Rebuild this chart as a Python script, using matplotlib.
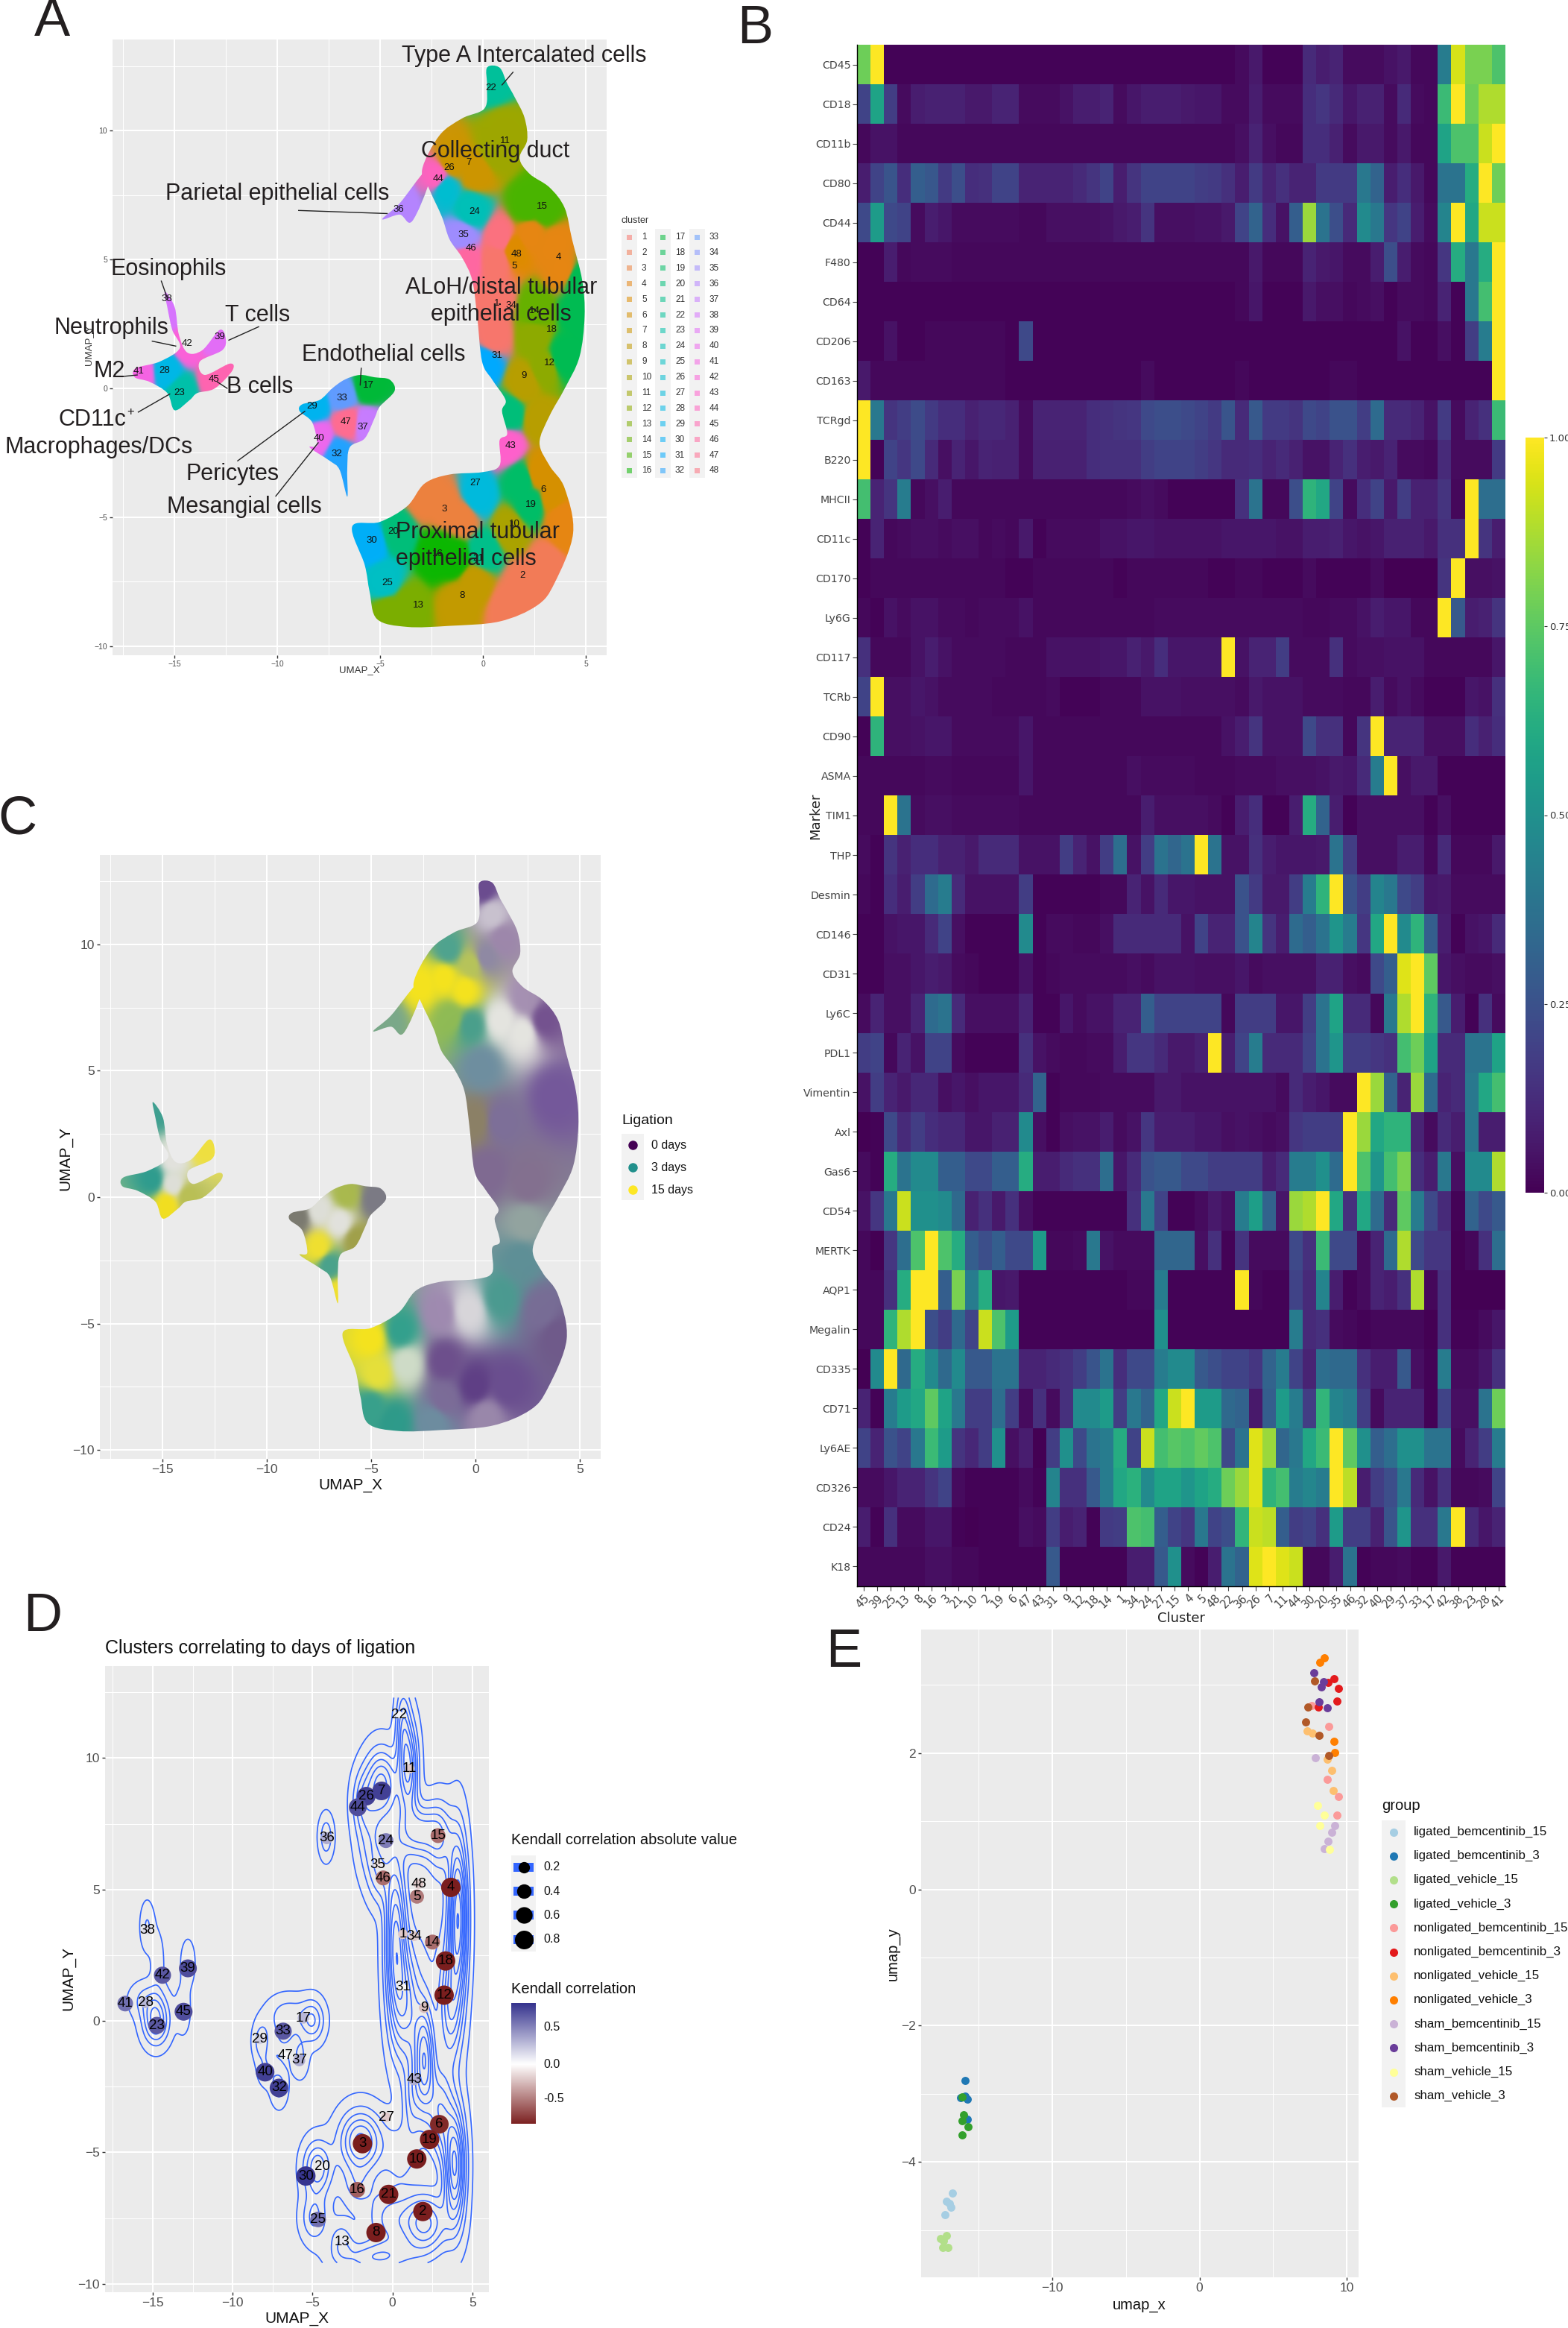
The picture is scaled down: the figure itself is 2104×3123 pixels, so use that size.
import numpy as np
import matplotlib
matplotlib.use('Agg')
import matplotlib.pyplot as plt
from matplotlib.colors import LinearSegmentedColormap, to_rgb
from matplotlib.patches import PathPatch, Rectangle
from matplotlib.path import Path

plt.rcParams['font.family'] = ['Liberation Sans', 'DejaVu Sans']

W, H = 2104, 3123

# cluster centres, cluster 1 to 48
cluster_x = [0.65,1.90,-1.88,3.65,1.53,2.93,-0.68,-1.03,1.98,1.52,1.07,3.23,-3.14,2.50,2.85,-2.20,
             -5.58,3.32,2.32,-4.38,-0.24,0.39,-14.74,-0.41,-4.65,-1.64,-0.40,-15.46,-8.32,-5.42,0.67,-7.10,
             -6.84,1.35,-0.95,-4.11,-5.83,-15.35,-12.80,-7.97,-16.72,-14.39,1.35,-2.17,-13.07,-0.58,-6.68,1.63]
cluster_y = [3.30,-7.25,-4.67,5.08,4.73,-3.93,8.75,-8.05,0.50,-5.25,9.60,0.98,-8.41,3.00,7.05,-6.42,
             0.11,2.28,-4.51,-5.54,-6.60,11.65,-0.17,6.86,-7.55,8.55,-3.66,0.70,-0.70,-5.90,1.28,-2.55,
             -0.39,3.22,5.95,6.95,-1.50,3.46,2.00,-1.95,0.66,1.74,-2.22,8.13,0.35,5.44,-1.31,5.21]
kendall = [-0.2,-0.85,-0.85,-0.85,-0.5,-0.8,0.8,-0.85,-0.25,-0.85,-0.2,-0.85,0.1,-0.55,-0.55,-0.6,
           0.3,-0.85,-0.85,0.05,-0.85,0.05,0.7,0.55,0.6,0.8,-0.2,0.3,0.2,0.85,-0.03,0.8,
           0.7,-0.2,-0.1,0.35,0.35,0.15,0.75,0.8,0.6,0.7,0.35,0.75,0.75,-0.55,0.02,-0.2]

# outlines of the umap islands
body_x = [0.19,0.8,1.17,1.53,2.01,2.14,1.77,2.26,3.23,3.96,4.32,4.81,4.93,4.68,3.96,3.23,2.74,3.23,3.96,4.37,3.47,2.62,0.8,-1.63,-3.69,-5.15,-5.51,-5.75,-6.36,-5.02,-3.69,-2.84,-1.63,-0.05,0.8,0.8,1.17,0.92,1.09,0.44,-0.05,-0.29,-0.53,-1.02,-1.63,-2.0,-2.6,-2.96,-2.12,-1.02,0.07,0.19]
body_y = [12.44,12.44,11.82,11.3,10.5,9.63,8.93,8.32,7.79,7.0,5.78,4.2,2.8,1.22,-0.01,-1.06,-2.11,-3.0,-3.87,-5.62,-7.55,-8.42,-9.04,-9.21,-9.25,-8.95,-7.9,-6.85,-5.36,-5.18,-4.57,-3.69,-3.34,-3.25,-2.99,-2.02,-1.76,-0.88,-0.45,0.34,1.04,2.8,4.2,5.07,5.78,6.65,7.7,8.49,9.81,10.47,10.86,11.73]
left_x = [-15.46,-14.98,-14.78,-14.37,-13.64,-12.79,-12.5,-12.67,-13.76,-13.52,-12.31,-12.18,-13.03,-13.88,-14.25,-14.98,-15.34,-16.19,-16.92,-16.87,-15.7,-14.73,-15.1,-15.34]
left_y = [3.76,3.15,2.09,1.39,1.48,2.27,1.92,1.48,1.04,0.52,0.96,0.69,0,-0.18,-0.45,-0.85,-0.18,0.25,0.43,0.78,1.04,1.57,2.27,3.15]
mid_x = [-5.99,-6.72,-7.33,-7.94,-8.79,-8.91,-8.3,-8.06,-8.42,-7.45,-6.97,-6.6,-6.6,-6.48,-5.75,-5.27,-5.02,-4.3,-4.54,-5.27]
mid_y = [0.52,0.34,0,-0.45,-0.62,-0.89,-1.32,-2.2,-2.29,-2.81,-3.16,-4.2,-3.16,-2.29,-1.94,-1.15,-0.71,-0.1,0.34,0.43]
par_x = [-4.9,-4.05,-2.84,-2.6,-3.45,-4.05]
par_y = [6.56,7.18,8.4,8.05,6.48,6.74]

# panel A colour regions
fill_id = [22,11,11,7,7,15,15,26,24,44,35,46,1,1,1,4,4,4,5,48,14,18,18,18,12,12,9,9,31,20,43,6,6,4,19,19,3,3,3,27,10,4,2,2,2,21,16,16,20,30,25,13,13,8,8,
           38,42,39,41,28,23,45,17,33,29,47,37,40,32,36]
fill_x = [0.5,1,0.6,-0.3,-1.5,2.9,2.2,-1.9,-0.6,-2.2,-1,-0.85,0.6,0.7,0.5,3.5,2.3,3.9,1.5,0.9,2.6,4.6,4.6,3.9,3,2.5,2,2.7,0.1,1.3,1.2,2.7,3.4,4,2.3,1.9,-1.8,-2.8,-1,-0.3,1.3,3.8,2,3.2,1.2,0.1,-2.2,-1.4,-4.2,-5.4,-4.8,-3.7,-4.6,-1.1,-0.4,
          -15.3,-14.4,-13,-16.6,-15.4,-14.7,-13,-5.6,-6.8,-8.2,-6.6,-5.7,-8,-7,-4]
fill_y = [11.9,10,9.2,8.4,8.8,7,7,7.8,6.9,8.15,5.9,5,3.5,5,2,5.5,6,4.6,5.4,5.8,3,3,4.2,1.2,0.8,2,0.2,-1.2,1,-1,-2.2,-3.3,-4.2,-5.6,-4.5,-3.6,-4.6,-4.2,-5,-4.2,-5.5,-5,-7.6,-6.8,-8.5,-6.3,-6.4,-6.6,-5.6,-6,-7.5,-8.5,-8.7,-8.3,-7.6,
          3,1.7,2,0.6,0.7,-0.2,0.4,0.1,-0.3,-0.7,-1.3,-1.4,-1.9,-2.6,7]

# panel C colour field
lig_x = [0.4,0.8,1.3,-1.3,-1.5,-0.5,-0.2,0.5,-2.6,-1.2,-0.2,1.2,2.3,3.3,2.4,0.3,1.2,3.8,0.6,2.5,2.4,0.0,2.2,1.2,3.2,3.9,
         -1.7,-0.3,-3.6,-5,-4.7,-3.3,-1.5,0,1.5,-3.9,-5,-2,0.5,-1.5,
         -15.3,-15.5,-14.5,-14.8,-13.8,-13,-14.5,-6.2,-7.5,-8.5,-4.8,-6.5,-7.5,-7,-6.6,-5.7,-4.2]
lig_y = [12.2,11.2,10.2,9.8,8.7,8.2,9.2,9.5,8.4,7.1,6.8,7,6.5,7,7.9,5.2,3,4,1,0.5,-1,3,-2.5,-4,-4.5,-5.5,
         -4.6,-4.5,-5.3,-5.6,-7,-6.6,-6.5,-7.5,-7.5,-8.9,-8.3,-8.9,-8.7,-8,
         3.5,0.7,0.5,-0.3,0,2,1.5,0.1,-0.5,-0.8,-0.1,-1,-2,-2.7,-3.8,-1.7,7]
lig_col = ['#6b4c8f','#c9c2cf','#9d87ab','#4fa38f','#f5e31e','#f5e31e','#b7c45a','#8f89a4','#f5e31e','#8fbb55','#4a9f8c','#e5e5e0','#e5e5e0','#74528f','#a590b2','#6e8ea0','#7d6f99','#74589a','#7f6a92','#83708f','#93a4a0','#8c8166','#5e8f96','#4b9a90','#786d96','#6f5a8a',
           '#9f8ab0','#d8d6da','#33a08d','#f5e31e','#e6e03a','#cfdcc8','#6d4f8c','#5f3f85','#6a4e8f','#2e9a8a','#38a08c','#6d8da0','#9a88ab','#7c6c98',
           '#3f9f90','#2f9c8e','#dedfd8','#f2df20','#b9bf55','#efe040','#e2e2dd','#a9b94e','#dedfd8','#7b7a70','#7b7a85','#e2e2dd','#f0e030','#4aa28c','#f0e030','#a0a04a','#7aa88a']

# heatmap
markers = ['CD45','CD18','CD11b','CD80','CD44','F480','CD64','CD206','CD163','TCRgd','B220','MHCII','CD11c','CD170','Ly6G','CD117','TCRb','CD90','ASMA','TIM1','THP','Desmin','CD146','CD31','Ly6C','PDL1','Vimentin','Axl','Gas6','CD54','MERTK','AQP1','Megalin','CD335','CD71','Ly6AE','CD326','CD24','K18']
cluster_order = [45,39,25,13,8,16,3,21,10,2,19,6,47,43,31,9,12,18,14,1,34,24,27,15,4,5,48,22,36,26,7,11,44,30,20,35,46,32,40,29,37,33,17,42,38,23,28,41]
CD45 = [78,100,1,1,1,1,1,1,1,1,1,1,1,1,1,1,1,1,1,1,1,1,1,1,1,1,1,1,3,7,1,1,1,12,8,10,3,3,3,5,7,2,2,42,94,80,80,72]
CD18 = [20,58,18,3,8,9,9,9,7,7,10,10,3,3,3,5,8,8,10,3,6,8,8,8,7,6,6,3,3,8,3,3,3,13,16,12,6,9,9,3,12,3,2,68,100,78,88,88]
CD11b = [2,5,5,2,2,2,2,2,2,2,2,2,2,2,2,2,2,2,2,2,2,2,2,2,2,2,2,2,4,10,4,2,2,13,13,9,3,7,7,3,7,2,2,58,72,72,92,100]
CD80 = [8,20,26,13,30,27,17,24,13,14,20,20,10,10,10,10,12,15,20,8,15,20,20,20,20,18,17,14,8,17,10,14,10,10,17,17,17,40,32,8,13,7,2,38,38,62,100,78]
CD44 = [22,55,22,20,3,8,6,3,3,3,3,3,2,2,4,4,4,4,5,7,8,15,4,4,4,5,5,7,20,32,13,5,30,85,38,24,12,48,40,16,20,8,3,45,100,60,92,92]
F480 = [1,1,8,2,3,3,3,2,2,2,2,2,2,2,2,2,2,2,2,2,2,2,2,2,2,2,2,2,2,7,2,2,2,10,7,6,3,3,8,24,8,3,2,16,62,40,62,100]
CD64 = [1,1,1,1,1,1,1,1,1,1,1,1,1,1,1,1,1,1,1,1,1,1,1,1,1,1,1,1,2,6,1,1,1,7,4,4,2,3,4,1,3,3,2,10,1,40,70,100]
CD206 = [1,1,5,1,1,2,2,2,2,2,2,1,22,1,1,1,1,1,1,1,1,1,1,1,1,1,1,1,1,1,1,1,1,1,1,1,1,1,1,1,5,1,1,4,1,18,42,100]
CD163 = [7,2,2,2,2,2,2,2,2,2,2,1,1,1,1,1,1,1,1,1,1,3,1,1,1,1,1,1,2,1,1,1,1,1,1,2,2,1,1,1,1,1,1,1,1,1,1,100]
TCRgd = [100,40,15,18,23,17,13,13,9,11,11,9,3,10,10,10,10,13,14,15,16,22,24,24,22,20,17,26,12,28,17,17,15,22,20,25,25,18,35,12,12,10,5,17,3,10,14,68]
B220 = [100,1,20,16,22,12,4,10,6,10,9,9,3,9,9,9,9,13,14,14,14,18,20,20,20,18,16,12,12,13,10,12,9,5,5,10,14,8,7,10,3,3,2,12,3,3,3,17]
MHCII = [70,10,15,42,2,4,8,2,2,2,2,2,2,2,2,2,2,2,2,2,3,4,3,1,1,1,1,1,14,38,2,2,24,65,60,20,3,13,20,7,18,9,9,15,2,100,36,36]
CD11c = [1,10,2,3,4,4,3,4,4,2,3,2,7,1,3,3,3,3,5,5,6,6,5,5,5,5,5,6,6,6,6,5,5,8,8,9,6,5,6,9,9,9,7,14,14,100,15,8]
CD170 = [1,2,2,2,2,2,2,2,2,2,2,1,1,2,2,2,2,2,2,1,2,2,2,2,2,2,1,1,2,2,1,1,1,3,1,1,1,1,3,0,0,0,0,15,100,4,4,5]
Ly6G = [2,1,5,3,5,5,3,3,2,3,3,3,5,2,2,2,2,2,2,2,2,2,3,3,3,3,3,3,3,3,3,3,3,2,2,3,3,5,8,6,6,2,2,100,28,8,9,15]
CD117 = [14,2,2,2,5,8,5,3,3,3,3,2,2,2,5,5,5,5,6,6,9,7,13,6,6,6,6,100,5,10,10,18,3,3,3,14,3,4,4,5,5,5,2,2,2,2,2,6]
TCRb = [20,100,4,4,6,5,3,3,3,3,2,2,2,2,3,1,1,1,2,2,2,5,5,5,4,4,4,4,3,7,5,5,5,3,3,3,2,2,8,3,5,3,1,1,1,6,5,14]
CD90 = [1,65,4,4,5,6,6,3,3,3,3,3,6,2,2,2,2,2,2,2,2,2,2,2,2,2,2,5,8,15,5,5,5,22,14,14,2,15,100,10,10,10,4,4,4,13,9,13]
ASMA = [2,2,2,2,2,3,3,2,2,2,2,2,6,2,2,2,2,2,2,2,4,3,3,3,3,2,2,2,3,3,3,4,4,4,5,7,6,12,42,100,4,7,7,1,1,1,1,1]
TIM1 = [2,2,100,38,3,4,4,3,3,3,3,3,2,2,2,2,2,2,2,2,2,8,4,4,4,4,3,1,8,13,1,1,8,62,32,8,1,4,4,4,4,4,1,4,1,1,1,1]
THP = [3,1,15,9,13,13,9,9,7,12,12,12,5,5,5,18,10,5,18,36,5,18,38,33,38,100,38,5,5,14,8,6,6,6,7,38,18,4,4,4,8,8,2,12,2,2,2,7]
Desmin = [2,1,13,8,18,35,42,12,5,5,5,5,18,1,1,1,1,1,2,2,10,5,12,6,6,5,5,5,25,17,7,7,18,42,65,100,25,18,45,40,22,18,6,7,3,3,3,3]
CD146 = [1,1,5,6,6,12,20,4,1,1,1,1,48,1,3,3,2,2,4,12,12,12,12,12,5,20,10,10,25,45,15,8,35,30,38,52,42,16,60,100,48,65,30,8,1,5,6,12]
CD31 = [1,1,4,4,6,8,7,3,2,1,1,1,5,1,2,3,3,3,3,3,4,3,5,5,5,4,4,4,6,3,4,4,4,4,9,9,4,3,22,30,95,100,75,6,4,3,3,4]
Ly6C = [3,10,4,4,10,35,38,12,4,4,4,4,10,1,1,6,3,5,5,10,10,30,20,20,20,20,20,2,18,18,18,6,6,18,38,58,12,12,2,40,88,100,65,28,8,1,14,3]
PDL1 = [18,20,2,10,5,20,20,3,1,1,1,1,14,5,3,2,2,3,3,8,16,16,12,7,7,9,100,8,20,42,12,12,12,20,38,52,18,18,16,14,70,78,58,12,12,38,38,58]
Vimentin = [5,18,10,7,11,11,4,6,4,6,6,6,12,32,1,2,2,2,3,3,3,3,7,7,5,5,5,5,5,5,5,3,12,8,6,3,3,100,85,32,10,85,35,10,12,40,60,70]
Axl = [0,1,22,12,18,13,11,11,6,6,9,9,48,4,1,4,5,5,8,3,5,16,8,8,8,6,6,4,5,4,3,4,16,18,18,18,100,85,60,65,65,10,3,12,8,40,8,8]
Gas6 = [3,1,62,38,48,48,30,30,22,22,30,30,62,8,8,12,14,14,36,6,12,25,28,28,22,22,18,18,18,18,8,12,42,42,50,35,100,72,52,70,80,13,8,40,4,48,48,88]
CD54 = [5,16,40,92,50,50,48,34,9,14,7,14,4,1,1,1,1,1,1,1,14,40,20,1,1,3,7,4,42,56,32,6,85,88,100,60,14,60,35,12,75,42,22,12,1,32,22,28]
MERTK = [2,0,16,36,72,100,72,62,30,24,30,22,22,55,2,2,3,40,5,3,3,3,33,33,33,4,14,1,15,3,3,3,22,14,68,22,22,3,10,35,88,22,16,16,0,2,14,36]
AQP1 = [2,2,14,62,100,100,30,80,42,62,6,7,1,1,1,1,1,1,1,1,2,2,42,1,1,1,1,1,100,2,1,1,20,12,45,8,1,3,10,8,14,88,2,14,0,0,0,0]
Megalin = [2,2,65,88,100,24,18,34,20,92,72,55,1,1,1,1,1,1,1,1,1,1,50,1,1,1,1,1,1,1,1,1,42,12,14,3,2,1,2,2,2,2,0,14,1,1,3,6]
CD335 = [0,48,100,34,62,48,34,48,28,28,38,38,10,10,12,14,18,26,38,13,22,22,42,48,48,28,24,20,20,16,32,42,20,10,36,34,34,14,8,8,28,4,1,42,3,3,6,14]
CD71 = [10,1,42,55,60,75,58,40,18,18,36,18,3,14,3,14,48,48,55,18,40,32,60,92,100,55,55,34,32,7,30,55,42,18,66,45,42,18,3,10,10,10,1,20,4,4,38,78]
Ly6AE = [20,10,25,20,40,68,55,15,11,18,50,4,8,0,18,50,22,38,42,62,20,92,70,74,72,76,72,22,38,95,85,33,40,60,68,100,75,50,30,36,50,50,38,38,3,10,18,42]
CD326 = [3,3,6,10,10,15,20,3,1,1,1,1,3,1,45,14,14,28,42,60,64,48,58,58,52,58,62,78,85,95,65,70,42,46,42,100,90,8,18,24,40,12,5,14,2,2,3,20]
CD24 = [8,1,14,3,3,6,6,1,0,1,1,1,4,3,18,8,10,1,17,18,72,70,30,20,16,40,20,24,66,92,90,30,18,20,14,55,18,18,9,26,52,14,14,40,100,12,6,10]
K18 = [2,2,2,2,2,4,4,2,2,1,1,1,1,1,28,1,1,1,1,1,8,8,28,50,3,1,8,38,32,95,100,95,92,2,2,8,38,1,2,2,3,1,1,7,1,1,1,1]
heat_rows = [CD45,CD18,CD11b,CD80,CD44,F480,CD64,CD206,CD163,TCRgd,B220,MHCII,CD11c,CD170,Ly6G,CD117,TCRb,CD90,ASMA,TIM1,THP,Desmin,CD146,CD31,Ly6C,PDL1,Vimentin,Axl,Gas6,CD54,MERTK,AQP1,Megalin,CD335,CD71,Ly6AE,CD326,CD24,K18]

# density bumps: x, y, spread x, spread y, height
dens_x = [0.65,-0.7,1.0,1.7,3,-1.3,-0.8,4.1,0.2,2.2,0.9,3.6,2.0,1.2,3,3.9,-2,0.5,2,-0.3,-2.2,-4.7,-4.9,-3.2,-1,-14.8,-15.4,-15.35,-14.7,-12.8,-13.1,-5,-6.5,-8.2,-5.8,-7.1,-7.9,-6.8,-4.15,-1.9]
dens_y = [11.3,9,9.6,7.2,6.9,6.8,5.5,4,3,3,0.5,0.5,-1.5,-3,-3.5,-5.5,-4.6,-5,-7.7,-7.5,-6.3,-5.6,-7.5,-8.4,-9,0,0.8,3.6,2.2,2.2,0.4,0,0.2,-0.8,-1.4,-2.5,-1.9,-0.6,7,8.3]
dens_sx = [0.3,0.7,0.4,0.9,0.55,0.6,0.5,0.4,0.45,1.2,0.55,0.5,0.45,0.4,0.5,0.45,0.9,0.8,1.0,0.9,0.6,0.6,0.55,0.5,1.6,0.55,0.7,0.28,0.3,0.3,0.3,0.5,0.9,0.35,0.35,0.35,0.35,0.4,0.3,0.45]
dens_sy = [1.0,0.9,1.2,0.7,1.0,1.0,0.8,2.0,2.2,1.8,1.5,1.5,1.5,1.0,1.2,1.5,0.8,0.8,0.8,0.8,0.5,0.7,0.6,0.5,0.4,0.6,0.45,0.6,0.9,0.6,0.6,0.55,0.5,0.5,0.5,0.5,0.4,0.4,0.55,0.8]
dens_h = [0.6,1.1,1.2,0.9,0.6,0.5,0.45,1.7,1.4,0.2,0.9,0.9,1.5,0.5,0.9,1.6,1.1,0.35,1.1,0.45,0.3,0.8,0.5,0.4,0.6,0.9,0.3,0.28,0.16,0.22,0.22,0.6,0.4,0.4,0.3,0.35,0.25,0.25,0.42,0.45]

# panel E
groups = ['ligated_bemcentinib_15','ligated_bemcentinib_3','ligated_vehicle_15','ligated_vehicle_3','nonligated_bemcentinib_15','nonligated_bemcentinib_3','nonligated_vehicle_15','nonligated_vehicle_3','sham_bemcentinib_15','sham_bemcentinib_3','sham_vehicle_15','sham_vehicle_3']
group_col = ['#A6CEE3','#1F78B4','#B2DF8A','#33A02C','#FB9A99','#E31A1C','#FDBF6F','#FF7F00','#CAB2D6','#6A3D9A','#FFFF99','#B15928']
group_x = [[-16.8,-17.19,-17.0,-16.9,-17.29],[-15.94,-16.23,-15.94,-15.74,-15.74],[-17.58,-17.16,-17.39,-17.45,-17.06],[-16.1,-16.0,-16.13,-15.71,-16.13],
           [7.61,8.77,8.68,9.42,9.35],[9.13,8.71,9.45,9.32,8.06],[7.32,7.65,8.65,8.97,9.1],[8.45,8.19,9.13,9.16],
           [7.87,9.16,9.0,8.74,8.48],[7.74,8.42,8.29,8.13,8.68],[8.0,8.45,8.19,8.84],[7.84,7.35,7.23,8.13,8.77]]
group_y = [[-4.45,-4.57,-4.61,-4.66,-4.77],[-2.8,-3.05,-3.03,-3.08,-3.37],[-5.12,-5.08,-5.15,-5.25,-5.25],[-3.04,-3.31,-3.39,-3.48,-3.6],
           [2.7,2.39,1.61,1.36,1.09],[3.09,3.03,2.95,2.76,2.67],[2.32,2.29,1.91,1.74,1.45],[3.39,3.33,2.17,2.01],
           [1.93,0.93,0.84,0.71,0.6],[3.18,3.04,2.97,2.75,2.66],[1.23,1.09,0.93,0.58],[3.06,2.67,2.45,2.26,1.96]]


def px_axes(x0, y0, x1, y1):
    return fig.add_axes([x0 / W, 1 - y1 / H, (x1 - x0) / W, (y1 - y0) / H])


def ftext(x, y, s, **kw):
    kw.setdefault('ha', 'left')
    kw.setdefault('va', 'center')
    return fig.text(x / W, 1 - y / H, s, **kw)


def frect(x0, y0, x1, y1, color, **kw):
    fig.add_artist(Rectangle((x0 / W, 1 - y1 / H), (x1 - x0) / W, (y1 - y0) / H, transform=fig.transFigure, color=color, lw=0, **kw))


def fdot(x, y, color, size):
    fig.add_artist(plt.Line2D([x / W], [1 - y / H], marker='o', ms=size, color=color, mew=0, ls='', transform=fig.transFigure))


def gg_axes(box, xlim, ylim, xmaj, xmin, ymaj, ymin, tick_size):
    ax = px_axes(*box)
    ax.set_facecolor('#EBEBEB')
    ax.set_xlim(*xlim)
    ax.set_ylim(*ylim)
    ax.set_xticks(xmaj)
    ax.set_yticks(ymaj)
    ax.set_xticks(xmin, minor=True)
    ax.set_yticks(ymin, minor=True)
    ax.grid(True, which='major', color='white', lw=1.5, zorder=0)
    ax.grid(True, which='minor', color='white', lw=0.75, zorder=0)
    ax.set_axisbelow(True)
    ax.tick_params(which='minor', length=0)
    ax.tick_params(which='major', length=3, width=1, color='#333333', labelcolor='#4D4D4D', labelsize=tick_size, pad=2)
    for s in ax.spines.values():
        s.set_visible(False)
    return ax


def hue_colour(i, n):
    # ggplot default hue palette
    h = np.radians(15 + 360.0 * i / n)
    L, C = 65.0, 100.0
    up = C * np.cos(h) / (13 * L) + 0.19784
    vp = C * np.sin(h) / (13 * L) + 0.46834
    Y = ((L + 16) / 116) ** 3
    X = Y * 9 * up / (4 * vp)
    Z = Y * (12 - 3 * up - 20 * vp) / (4 * vp)
    m = np.array([[3.2406, -1.5372, -0.4986], [-0.9689, 1.8758, 0.0415], [0.0557, -0.2040, 1.0570]])
    rgb = np.clip(m.dot([X, Y, Z]), 0, 1)
    rgb = np.where(rgb <= 0.0031308, 12.92 * rgb, 1.055 * rgb ** (1 / 2.4) - 0.055)
    return tuple(rgb)


def rounded_path(xs, ys):
    p = np.column_stack([xs, ys])
    n = len(p)
    verts = [p[0]]
    codes = [Path.MOVETO]
    for i in range(n):
        a, b, c, d = p[i - 1], p[i], p[(i + 1) % n], p[(i + 2) % n]
        verts += [b + (c - a) / 6, c - (d - b) / 6, c]
        codes += [Path.CURVE4] * 3
    return Path(verts, codes)


def islands_patch(ax):
    parts = [rounded_path(xs, ys) for xs, ys in [(body_x, body_y), (left_x, left_y), (mid_x, mid_y), (par_x, par_y)]]
    patch = PathPatch(Path.make_compound_path(*parts), fc='none', ec='none', transform=ax.transData)
    ax.add_patch(patch)
    return patch


def blend_field(xs, ys, cols, power):
    field = np.zeros(gx.shape + (3,))
    weight = np.zeros(gx.shape)
    for a, b, c in zip(xs, ys, cols):
        w = 1.0 / (((gx - a) ** 2 + (gy - b) ** 2) ** power + 1e-5)
        field += w[..., None] * np.array(c)
        weight += w
    return field / weight[..., None]


fig = plt.figure(figsize=(W / 100, H / 100), dpi=100)
big = dict(color='#231f20', ha='center')
xr = (-18, 6)
yr = (-10.35, 13.53)
xmaj = [-15, -10, -5, 0, 5]
xmin = [-17.5, -12.5, -7.5, -2.5, 2.5]
ymaj = [-10, -5, 0, 5, 10]
ymin = [-7.5, -2.5, 2.5, 7.5, 12.5]
cluster_cols = [hue_colour(i, 48) for i in range(48)]
gx, gy = np.meshgrid(np.linspace(-18, 6, 700), np.linspace(-10.35, 13.53, 700))

# A
ax = gg_axes((151, 53, 814, 879), xr, yr, xmaj, xmin, ymaj, ymin, 7.5)
im = ax.imshow(blend_field(fill_x, fill_y, [cluster_cols[i - 1] for i in fill_id], 4), extent=(-18, 6, -10.35, 13.53), origin='lower', aspect='auto', zorder=2)
im.set_clip_path(islands_patch(ax))
for i in range(48):
    ax.text(cluster_x[i], cluster_y[i], str(i + 1), fontsize=9.5, color='#111111', ha='center', va='center', zorder=4)
lead_x0 = [1.45,-8.96,-15.63,-16.07,-10.9,-17.52,-12.43,-16.75,-5.92,-11.92,-10.07]
lead_y0 = [12.26,6.9,4.16,1.83,2.39,0.46,0,-0.92,0.78,-2.81,-4.18]
lead_x1 = [0.92,-4.66,-15.34,-14.93,-12.35,-16.8,-12.91,-15.22,-5.97,-8.66,-8.01]
lead_y1 = [11.77,6.78,3.5,1.64,1.87,0.52,0.25,-0.22,0.13,-0.89,-2.11]
for a, b, c, d in zip(lead_x0, lead_y0, lead_x1, lead_y1):
    ax.plot([a, c], [b, d], color='#222222', lw=1, zorder=4)
ftext(482, 899, 'UMAP_X', fontsize=9.5, color='#333333', ha='center')
ftext(119, 463, 'UMAP_Y', fontsize=9.5, color='#333333', ha='center', rotation=90)
ann_text = ['Type A Intercalated cells','Collecting duct','Parietal epithelial cells','ALoH/distal tubular','epithelial cells','Eosinophils','Neutrophils','T cells','M2','B cells','Endothelial cells','CD11c','Macrophages/DCs','Pericytes','Mesangial cells','Proximal tubular','epithelial cells']
ann_x = [703,665,372,673,672,226,149,346,147,349,515,124,133,312,328,641,625]
ann_y = [75,203,260,386,422,361,440,423,498,519,476,563,600,636,680,714,750]
for s, a, b in zip(ann_text, ann_x, ann_y):
    ftext(a, b, s, fontsize=22, **big)
ftext(175, 552, '+', fontsize=12, **big)
ftext(833, 296, 'cluster', fontsize=9, color='#333333')
for c in range(3):
    x0 = [834, 879, 925][c]
    frect(x0, 307, x0 + 21, 641, '#F2F2F2')
    for r in range(16):
        num = c * 16 + r + 1
        yy = 318 + r * 20.9
        fig.add_artist(Rectangle(((x0 + 7) / W, 1 - (yy + 3.5) / H), 7 / W, 7 / H, transform=fig.transFigure, color=cluster_cols[num - 1], alpha=0.55, lw=0))
        ftext(x0 + 27, yy, str(num), fontsize=8.5, color='#333333')

# B
hx0, hx1, hy0, hy1 = 1150, 2020, 60, 2128
ax = px_axes(hx0, hy0, hx1, hy1)
vals = np.array(heat_rows) / 100.0
im = ax.imshow(vals, aspect='auto', cmap='viridis', vmin=0, vmax=1, interpolation='nearest')
ax.set_xticks(range(48))
ax.set_xticklabels(cluster_order, rotation=45, ha='right', rotation_mode='anchor', family='DejaVu Sans')
ax.set_yticks(range(39))
ax.set_yticklabels(markers, family='DejaVu Sans')
ax.tick_params(labelsize=10.2, colors='#444444', length=4, width=0.8, pad=2)
ax.tick_params(axis='x', labelsize=10.5)
for k in ['top', 'right']:
    ax.spines[k].set_visible(False)
for k in ['left', 'bottom']:
    ax.spines[k].set_linewidth(1)
ftext(1585, 2171, 'Cluster', fontsize=13, family='DejaVu Sans', ha='center', color='#222222')
ftext(1094, 1095, 'Marker', fontsize=13, family='DejaVu Sans', ha='center', rotation=90, color='#222222')
cax = px_axes(2047, 587, 2072, 1600)
cb = fig.colorbar(im, cax=cax, ticks=[0, 0.25, 0.5, 0.75, 1])
cb.ax.set_yticklabels(['0.00', '0.25', '0.50', '0.75', '1.00'], family='DejaVu Sans')
cb.ax.tick_params(labelsize=9.5, length=3, colors='#333333', pad=2)
cb.outline.set_visible(False)

# C
ax = gg_axes((134, 1147, 806, 1957), xr, yr, xmaj, xmin, ymaj, ymin, 12.5)
im = ax.imshow(blend_field(lig_x, lig_y, [to_rgb(c) for c in lig_col], 2), extent=(-18, 6, -10.35, 13.53), origin='lower', aspect='auto', zorder=2)
im.set_clip_path(islands_patch(ax))
ftext(470, 1992, 'UMAP_X', fontsize=15, color='#111111', ha='center')
ftext(88, 1554, 'UMAP_Y', fontsize=15, color='#111111', ha='center', rotation=90)
ftext(834, 1503, 'Ligation', fontsize=14, color='#111111')
frect(834, 1521, 864, 1610, '#F2F2F2')
for lab_s, c, yy in zip(['0 days', '3 days', '15 days'], ['#440154', '#21908C', '#FDE725'], [1536, 1566, 1596]):
    fdot(849, yy, c, 9)
    ftext(874, yy, lab_s, fontsize=11.5, color='#111111')

# D
ax = gg_axes((141, 2235, 656, 3075), (-17.98, 6.03), (-10.32, 13.5), xmaj, xmin, ymaj, ymin, 12.5)
cx, cy = np.meshgrid(np.linspace(-17.5, 5.5, 700), np.linspace(-9.2, 12.3, 700))
dens = np.zeros(cx.shape)
for a, b, sa, sb, h in zip(dens_x, dens_y, dens_sx, dens_sy, dens_h):
    dens += h * np.exp(-((cx - a) / sa) ** 2 / 2 - ((cy - b) / sb) ** 2 / 2)
ax.contour(cx, cy, dens, levels=np.arange(0.07, 2.6, 0.19), colors='#3366FF', linewidths=1.2, zorder=2)
kend_cmap = LinearSegmentedColormap.from_list('kend', ['#7a1e1e', '#ffffff', '#37358f'])
sizes = [(0.72 * (9 + 20 * abs(v))) ** 2 for v in kendall]
ax.scatter(cluster_x, cluster_y, s=sizes, c=kendall, cmap=kend_cmap, vmin=-0.85, vmax=0.85, linewidths=0, zorder=3)
for i in range(48):
    ax.text(cluster_x[i], cluster_y[i], str(i + 1), fontsize=13.5, color='black', ha='center', va='center', zorder=4)
ftext(141, 2211, 'Clusters correlating to days of ligation', fontsize=18, color='#111111')
ftext(398, 3110, 'UMAP_X', fontsize=15, color='#111111', ha='center')
ftext(92, 2654, 'UMAP_Y', fontsize=15, color='#111111', ha='center', rotation=90)
ftext(686, 2469, 'Kendall correlation absolute value', fontsize=14.5, color='#111111')
frect(686, 2489, 719, 2618, '#F2F2F2')
for v, yy, ms in zip(['0.2', '0.4', '0.6', '0.8'], [2504.5, 2537, 2569.4, 2602], [11, 14, 16, 18]):
    frect(689, yy - 6, 716, yy + 6, '#3366FF')
    fdot(702.5, yy, 'black', ms)
    ftext(729, yy, v, fontsize=11.5, color='#111111')
ftext(686, 2668, 'Kendall correlation', fontsize=14.5, color='#111111')
cax = px_axes(686, 2687, 719, 2849)
grad = np.linspace(-0.83, 0.85, 256)[:, None]
cax.imshow(grad, aspect='auto', origin='lower', cmap=kend_cmap, vmin=-0.85, vmax=0.85, extent=(0, 1, -0.83, 0.85))
cax.set_xticks([])
cax.set_yticks([])
for s in cax.spines.values():
    s.set_visible(False)
for v, yy in zip(['0.5', '0.0', '-0.5'], [2720, 2769, 2816]):
    ftext(729, yy, v, fontsize=11.5, color='#111111')

# E
ax = gg_axes((1236, 2186, 1823, 3055), (-18.9, 10.8), (-5.69, 3.81), [-10, 0, 10], [-15, -5, 5], [-4, -2, 0, 2], [-5, -3, -1, 1, 3], 12.5)
for xs, ys, c in zip(group_x, group_y, group_col):
    ax.scatter(xs, ys, s=62, color=c, linewidths=0, zorder=3)
ftext(1529, 3093, 'umap_x', fontsize=14.5, color='#111111', ha='center')
ftext(1198, 2621, 'umap_y', fontsize=14.5, color='#111111', ha='center', rotation=90)
ftext(1854, 2423, 'group', fontsize=14.5, color='#111111')
frect(1854, 2442, 1886, 2827, '#F2F2F2')
for i in range(12):
    yy = 2457.5 + i * 32.2
    fdot(1870, yy, group_col[i], 8)
    ftext(1897, yy, groups[i], fontsize=12.2, color='#111111')

# panel letters
for s, a, b in zip('ABCDE', [70, 1013, 23, 57, 1132], [30, 39, 1100, 2169, 2217]):
    ftext(a, b, s, fontsize=52, **big)

fig.savefig('out.png', dpi=100, facecolor='white')
